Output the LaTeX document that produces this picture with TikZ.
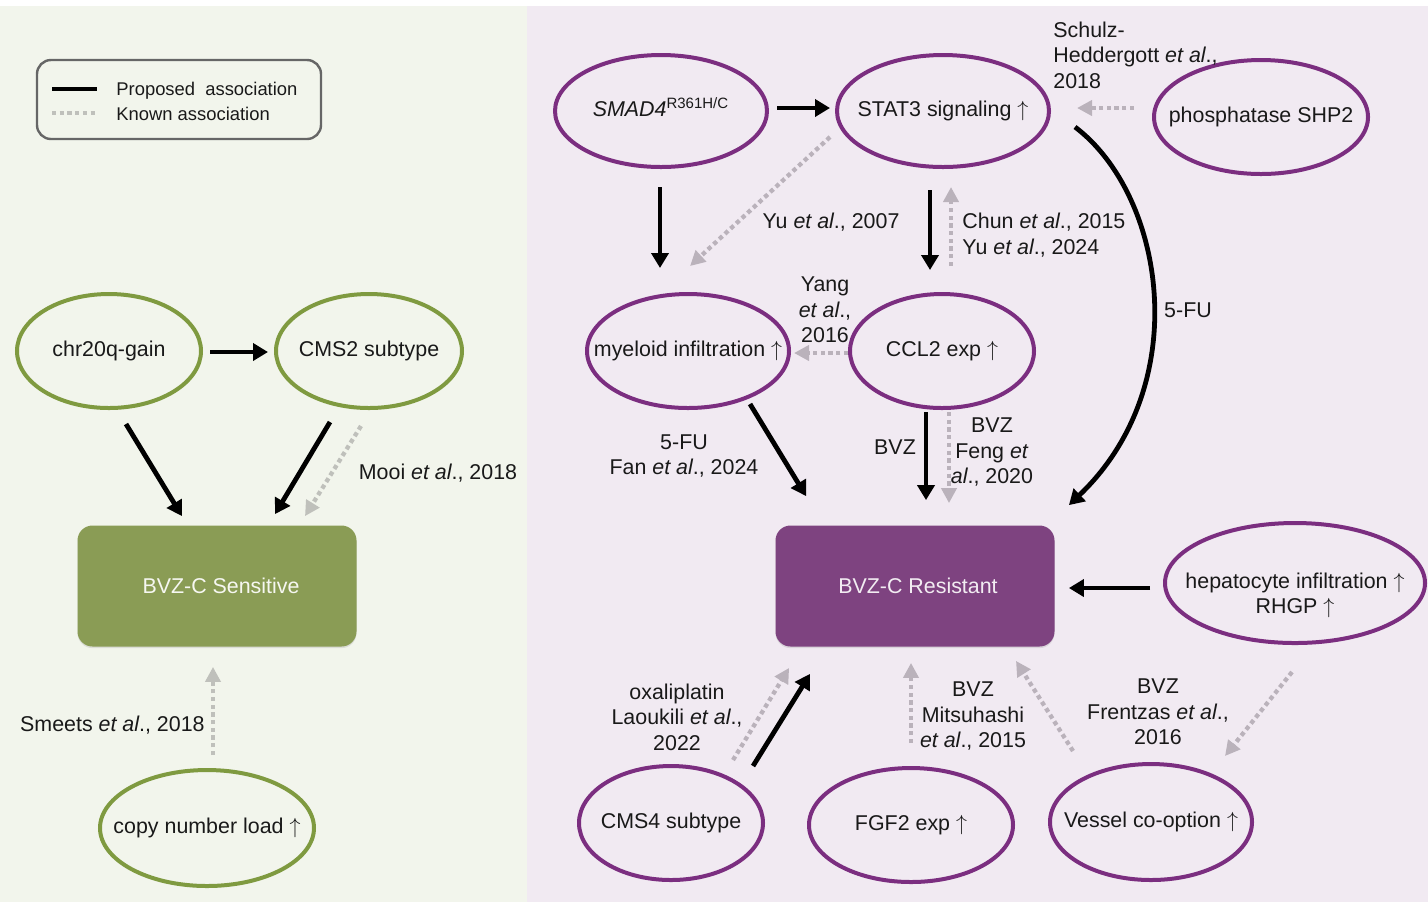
\documentclass[tikz,border=0pt]{standalone}
\usepackage{fontspec}
\setmainfont{Liberation Sans}
\usetikzlibrary{arrows.meta,shapes.geometric,calc,shadows}
\definecolor{LeftBg}{HTML}{F2F5EC}
\definecolor{RightBg}{HTML}{F1EAF2}
\definecolor{OliveLine}{HTML}{7F9A40}
\definecolor{OliveFill}{HTML}{8A9C55}
\definecolor{PlumLine}{HTML}{7B2E80}
\definecolor{PlumFill}{HTML}{7E4380}
\definecolor{KnownGrayL}{HTML}{BFC0BB}
\definecolor{KnownGrayR}{HTML}{BAB2BB}
\newcommand\InEll[1]{\makebox[0pt]{\begin{tabular}{@{}c@{}}#1\end{tabular}}}
\newcommand\etal{\textit{et al}.}
\newcommand\Up{$\uparrow$}
\tikzset{
    every node/.style={font=\fontsize{10.7}{12.75}\selectfont, text=black!90},
    greenell/.style={ellipse, draw=OliveLine, line width=2pt, inner sep=0pt},
    plumell/.style={ellipse, draw=PlumLine, line width=2pt, inner sep=0pt},
    outcome/.style={rectangle, rounded corners=7.5pt, minimum width=139.5pt,
        minimum height=60.5pt,
        drop shadow={shadow xshift=0pt, shadow yshift=-0.8pt, opacity=0.2}},
    proposed/.style={-{Triangle[length=7.5pt,width=8.5pt]}, line width=2.4pt, black},
    known/.style={-{Triangle[length=7.5pt,width=7.5pt]}, line width=2.15pt,
        dash pattern=on 2.15pt off 1.7pt, KnownGrayR},
    lbl/.style={align=center, inner sep=0pt},
    legendtext/.style={anchor=west, inner sep=0pt, font=\fontsize{9.2}{11}\selectfont},
}
\begin{document}
\begin{tikzpicture}[x=0.5pt,y=-0.5pt]
    \useasboundingbox (0,0) rectangle (1428,902);
    % panels
    \fill[white] (0,0) rectangle (1428,902);
    \fill[LeftBg] (0,6) rectangle (527,902);
    \fill[RightBg] (527,6) rectangle (1428,902);

    % legend
    \draw[draw=black!60, line width=1.2pt, rounded corners=7pt] (37,60) rectangle (321,139);
    \draw[black, line width=2.4pt] (52,89) -- (97,89);
    \draw[KnownGrayL, line width=2.15pt, dash pattern=on 2.15pt off 1.7pt] (52,113) -- (97,113);
    \node[legendtext] (legProposed) at (116,91) {Proposed\ \ association};
    \node[legendtext] (legKnown) at (116,114) {Known association};

    % sensitive side
    \node[greenell, minimum width=92pt, minimum height=57pt] (chr) at (109,351) {\InEll{chr20q-gain}};
    \node[greenell, minimum width=93pt, minimum height=57pt] (cmsTwo) at (369,351) {\InEll{CMS2 subtype}};
    \node[greenell, minimum width=107pt, minimum height=58pt] (copyLoad) at (207,828) {\InEll{copy number load \Up}};
    \node[outcome, fill=OliveFill, text=white!92!OliveFill] (sens) at (217,586) {\hspace{4pt}BVZ-C Sensitive};

    % resistant side
    \node[plumell, minimum width=106pt, minimum height=56pt] (smad) at (661,111) {\InEll{\textit{SMAD4}\textsuperscript{R361H/C}}};
    \node[plumell, minimum width=106pt, minimum height=56pt] (stat) at (943,111) {\InEll{STAT3 signaling \Up}};
    \node[plumell, minimum width=107pt, minimum height=57pt] (shp) at (1261,117) {\InEll{phosphatase SHP2}};
    \node[plumell, minimum width=101pt, minimum height=57pt] (myelo) at (688,351) {\InEll{myeloid infiltration \Up}};
    \node[plumell, minimum width=92pt, minimum height=57pt] (ccl) at (942,351) {\InEll{CCL2 exp \Up}};
    \node[outcome, fill=PlumFill, text=white!90!PlumFill] (res) at (915,586) {\hspace{3pt}BVZ-C Resistant};
    \node[plumell, minimum width=130pt, minimum height=60pt] (hep) at (1295,583) {\raisebox{-6.5pt}[\height][\depth]{\InEll{hepatocyte infiltration \Up\\RHGP \Up}}};
    \node[plumell, minimum width=92pt, minimum height=57pt] (cmsFour) at (671,823) {\InEll{CMS4 subtype}};
    \node[plumell, minimum width=102pt, minimum height=57pt] (fgf) at (911,825) {\InEll{FGF2 exp \Up}};
    \node[plumell, minimum width=101pt, minimum height=58pt] (vessel) at (1151,822) {\InEll{Vessel co-option \Up}};

    % connectors, sensitive side
    \draw[proposed] ($(chr.east)+(7,1)$) -- ($(cmsTwo.west)+(-6,1)$);
    \draw[proposed] ($(chr.south)+(17,14)$) -- ($(sens.north)+(-35,-9)$);
    \draw[proposed] ($(cmsTwo.south)+(-39,12)$) -- ($(sens.north)+(58,-11)$);
    \draw[known, KnownGrayL] ($(cmsTwo.south)+(-8,16)$) -- ($(sens.north)+(88,-9)$);
    \draw[known, KnownGrayL] ($(copyLoad.north)+(6,-13)$) -- ($(sens.south)+(-4,20)$);

    % connectors, resistant side
    \draw[proposed] ($(smad.east)+(8,-3)$) -- ($(stat.west)+(-5,-3)$);
    \draw[proposed] ($(smad.south)+(-1,18)$) -- ($(myelo.north)+(-28,-24)$);
    \draw[known] ($(stat.west)+(-5,26)$) -- ($(myelo.north)+(2,-26)$);
    \draw[proposed] ($(stat.south)+(-13,21)$) -- ($(ccl.north)+(-12,-22)$);
    \draw[known] ($(ccl.north)+(9,-26)$) -- ($(stat.south)+(8,18)$);
    \draw[known] ($(shp.west)+(-18,-9)$) -- ($(stat.east)+(26,-3)$);
    \draw[proposed] ($(stat.east)+(24,16)$) .. controls (1165,195) and (1195,385) .. ($(res.north east)+(14,-20)$);
    \draw[known] ($(ccl.west)+(0,2)$) -- ($(myelo.east)+(3,2)$);
    \draw[proposed] ($(myelo.south)+(62,-6)$) -- ($(res.north west)+(31,-29)$);
    \draw[proposed] ($(ccl.south)+(-16,2)$) -- ($(res.north)+(11,-25)$);
    \draw[known] ($(ccl.south)+(7,2)$) -- ($(res.north)+(34,-22)$);
    \draw[proposed] ($(hep.west)+(-13,5)$) -- ($(res.east)+(14,2)$);
    \draw[known] ($(hep.south)+(-3,27)$) -- ($(vessel.north)+(74,-6)$);
    \draw[known] ($(vessel.north)+(-78,-11)$) -- ($(res.south)+(101,14)$);
    \draw[known] ($(fgf.north)+(0,-23)$) -- ($(res.south)+(-4,16)$);
    \draw[known] ($(cmsFour.north)+(62,-4)$) -- ($(res.south west)+(14,21)$);
    \draw[proposed] ($(cmsFour.north)+(82,2)$) -- ($(res.south west)+(35,27)$);

    % labels
    \node[lbl] (lblMooi) at (438,473) {Mooi \etal, 2018};
    \node[lbl, anchor=east] (lblSmeets) at (205,725) {Smeets \etal, 2018};
    \node[lbl, anchor=west, align=left] (lblSchulz) at (1053,55) {Schulz-\\Heddergott \etal,\\2018};
    \node[lbl] (lblYu) at (831,222) {Yu \etal, 2007};
    \node[lbl, anchor=west, align=left] (lblChun) at (962,235) {Chun \etal, 2015\\Yu \etal, 2024};
    \node[lbl] (lblFuTop) at (1188,310) {5-FU};
    \node[lbl] (lblYang) at (825,310) {Yang\\\etal,\\2016};
    \node[lbl] (lblFan) at (684,456) {5-FU\\Fan \etal, 2024};
    \node[lbl] (lblBvz) at (895,447) {BVZ};
    \node[lbl] (lblFeng) at (992,452) {BVZ\\Feng \textit{et}\\\textit{al}., 2020};
    \node[lbl] (lblLaoukili) at (677,717) {oxaliplatin\\Laoukili \etal,\\2022};
    \node[lbl] (lblMitsuhashi) at (973,716) {BVZ\\Mitsuhashi\\\etal, 2015};
    \node[lbl] (lblFrentzas) at (1158,712) {BVZ\\Frentzas \etal,\\2016};
\end{tikzpicture}
\end{document}
